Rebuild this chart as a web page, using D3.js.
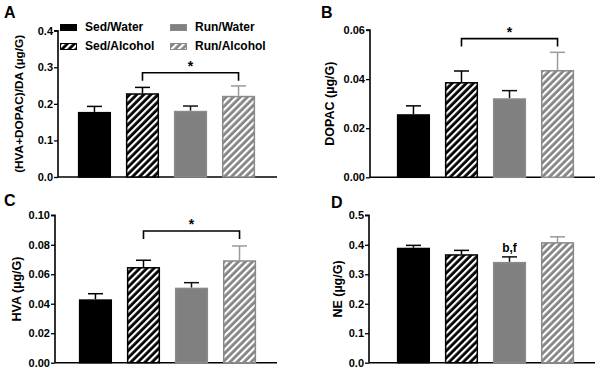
<!DOCTYPE html>
<html>
<head>
<meta charset="utf-8">
<script src="https://cdn.jsdelivr.net/npm/d3@7"></script>
<style>
  body { margin: 0; background: #fff; }
  svg { font-family: "Liberation Sans", Arial, sans-serif; font-weight: bold; }
  .tick text { font-size: 11px; font-weight: bold; fill: #000; }
</style>
</head>
<body>
<svg id="chart" width="600" height="372"></svg>
<script>
  // groups and per-panel values (mean, upper error)
  const groups = ['Sed/Water', 'Sed/Alcohol', 'Run/Water', 'Run/Alcohol'];

  const hvaDopacDaMean = [0.178, 0.229, 0.181, 0.222];
  const hvaDopacDaErr = [0.015, 0.016, 0.013, 0.027];

  const dopacMean = [0.0257, 0.0388, 0.0322, 0.0437];
  const dopacErr = [0.0034, 0.0045, 0.0031, 0.0072];

  const hvaMean = [0.0430, 0.0649, 0.0509, 0.0695];
  const hvaErr = [0.0038, 0.0046, 0.0034, 0.0097];

  const neMean = [0.390, 0.368, 0.342, 0.409];
  const neErr = [0.008, 0.013, 0.017, 0.018];

  const ticksA = [0, 0.1, 0.2, 0.3, 0.4];
  const ticksB = [0, 0.02, 0.04, 0.06];
  const ticksC = [0, 0.02, 0.04, 0.06, 0.08, 0.10];
  const ticksD = [0, 0.1, 0.2, 0.3, 0.4, 0.5];

  const svg = d3.select('#chart');

  // hatch patterns
  const defs = svg.append('defs');
  function hatch (id, bg, stripe) {
    const p = defs.append('pattern')
      .attr('id', id)
      .attr('patternUnits', 'userSpaceOnUse')
      .attr('width', 5)
      .attr('height', 5)
      .attr('patternTransform', 'rotate(45)');
    p.append('rect').attr('width', 5).attr('height', 5).attr('fill', bg);
    p.append('rect').attr('width', 2.2).attr('height', 5).attr('fill', stripe);
  }
  hatch('hatchBlack', '#000', '#fff');
  hatch('hatchGray', '#848484', '#fff');

  const fills = ['#000', 'url(#hatchBlack)', '#808080', 'url(#hatchGray)'];
  const strokes = ['#000', '#000', '#8a8a8a', '#8a8a8a'];
  const errColors = ['#000', '#000', '#111', '#9a9a9a'];

  function panel (cfg) {
    const g = svg.append('g');

    const y = d3.scaleLinear()
      .domain([0, cfg.max])
      .range([cfg.bottom, cfg.top]);

    const x = d3.scaleBand()
      .domain(groups)
      .range([cfg.band0, cfg.band1])
      .padding(0.31);

    g.append('g')
      .attr('transform', 'translate(' + cfg.axisX + ',0)')
      .call(d3.axisLeft(y).tickValues(cfg.ticks).tickSize(4).tickFormat(d3.format(cfg.fmt)))
      .call(function (a) {
        a.select('.domain').attr('stroke-width', 1.6).attr('d', 'M-4,' + y(cfg.max) + 'H0V' + y(0));
        a.selectAll('.tick line').attr('stroke-width', 1.3);
        a.selectAll('.tick text').attr('x', -5);
      });

    // baseline
    g.append('line')
      .attr('x1', cfg.axisX)
      .attr('x2', cfg.axisRight)
      .attr('y1', y(0))
      .attr('y2', y(0))
      .attr('stroke', '#000')
      .attr('stroke-width', 1.6);

    const data = groups.map(function (k, i) {
      return { key: k, i: i, mean: cfg.mean[i], err: cfg.err[i] };
    });

    // error bars (upward only)
    const eb = g.selectAll('.eb').data(data).enter().append('g');
    eb.append('line')
      .attr('x1', function (d) { return x(d.key) + x.bandwidth() / 2; })
      .attr('x2', function (d) { return x(d.key) + x.bandwidth() / 2; })
      .attr('y1', function (d) { return y(d.mean); })
      .attr('y2', function (d) { return y(d.mean + d.err); })
      .attr('stroke', function (d) { return errColors[d.i]; })
      .attr('stroke-width', 1.5);
    eb.append('line')
      .attr('x1', function (d) { return x(d.key) + x.bandwidth() / 2 - 7.5; })
      .attr('x2', function (d) { return x(d.key) + x.bandwidth() / 2 + 7.5; })
      .attr('y1', function (d) { return y(d.mean + d.err); })
      .attr('y2', function (d) { return y(d.mean + d.err); })
      .attr('stroke', function (d) { return errColors[d.i]; })
      .attr('stroke-width', 1.5);

    g.selectAll('.bar').data(data).enter().append('rect')
      .attr('x', function (d) { return x(d.key) + 0.75; })
      .attr('width', x.bandwidth() - 1.5)
      .attr('y', function (d) { return y(d.mean) + 0.75; })
      .attr('height', function (d) { return y(0) - y(d.mean) - 0.75; })
      .attr('fill', function (d) { return fills[d.i]; })
      .attr('stroke', function (d) { return strokes[d.i]; })
      .attr('stroke-width', 1.5);

    // significance bracket
    if (cfg.bracket) {
      const b = cfg.bracket;
      const xa = x(groups[b.from]) + x.bandwidth() / 2;
      const xb = x(groups[b.to]) + x.bandwidth() / 2;
      const yb = y(b.level);
      g.append('path')
        .attr('d', 'M' + xa + ',' + (yb + 8) + 'V' + yb + 'H' + xb + 'V' + (yb + 8))
        .attr('fill', 'none')
        .attr('stroke', '#000')
        .attr('stroke-width', 1.6);
      g.append('text')
        .attr('x', (xa + xb) / 2)
        .attr('y', yb - 2)
        .attr('text-anchor', 'middle')
        .attr('font-size', 14)
        .text('*');
    }

    if (cfg.note) {
      const n = cfg.note;
      g.append('text')
        .attr('x', x(groups[n.bar]) + x.bandwidth() / 2)
        .attr('y', y(cfg.mean[n.bar] + cfg.err[n.bar]) - 5)
        .attr('text-anchor', 'middle')
        .attr('font-size', 12)
        .text(n.text);
    }

    // y title
    g.append('text')
      .attr('transform', 'translate(' + cfg.titleX + ',' + ((cfg.top + cfg.bottom) / 2) + ') rotate(-90)')
      .attr('text-anchor', 'middle')
      .attr('font-size', cfg.titleSize)
      .text(cfg.title);

    // panel letter
    g.append('text')
      .attr('x', cfg.letterX)
      .attr('y', cfg.letterY)
      .attr('font-size', 16)
      .text(cfg.letter);
  }

  panel({
    letter: 'A', letterX: 4, letterY: 18,
    title: '(HVA+DOPAC)/DA (\u00b5g/G)', titleX: 23, titleSize: 11.8,
    axisX: 58, axisRight: 277, band0: 63, band1: 270,
    top: 30.7, bottom: 177, max: 0.4, ticks: ticksA, fmt: '.1f',
    mean: hvaDopacDaMean, err: hvaDopacDaErr,
    bracket: { from: 1, to: 3, level: 0.285 }
  });

  panel({
    letter: 'B', letterX: 321, letterY: 18,
    title: 'DOPAC (\u00b5g/G)', titleX: 334, titleSize: 12.5,
    axisX: 370, axisRight: 595, band0: 382, band1: 589,
    top: 30, bottom: 177.3, max: 0.06, ticks: ticksB, fmt: '.2f',
    mean: dopacMean, err: dopacErr,
    bracket: { from: 1, to: 3, level: 0.0565 }
  });

  panel({
    letter: 'C', letterX: 4, letterY: 206,
    title: 'HVA (\u00b5g/G)', titleX: 21, titleSize: 12.5,
    axisX: 55, axisRight: 277, band0: 64, band1: 271,
    top: 215.3, bottom: 362.7, max: 0.10, ticks: ticksC, fmt: '.2f',
    mean: hvaMean, err: hvaErr,
    bracket: { from: 1, to: 3, level: 0.0893 }
  });

  panel({
    letter: 'D', letterX: 331, letterY: 208,
    title: 'NE (\u00b5g/G)', titleX: 342, titleSize: 12.5,
    axisX: 369, axisRight: 595, band0: 382, band1: 589,
    top: 215.3, bottom: 362.7, max: 0.5, ticks: ticksD, fmt: '.1f',
    mean: neMean, err: neErr,
    note: { bar: 2, text: 'b,f' }
  });

  // legend
  const legendRows = [
    { key: groups[0], x: 60, y: 24 },
    { key: groups[1], x: 60, y: 43 },
    { key: groups[2], x: 170, y: 24 },
    { key: groups[3], x: 170, y: 43 }
  ];
  const lg = svg.append('g').attr('class', 'legend');
  legendRows.forEach(function (r, i) {
    lg.append('rect')
      .attr('x', r.x + 0.5)
      .attr('y', r.y + 0.5)
      .attr('width', 16)
      .attr('height', 6)
      .attr('fill', fills[i])
      .attr('stroke', strokes[i])
      .attr('stroke-width', 1);
    lg.append('text')
      .attr('x', r.x + 25)
      .attr('y', r.y + 7)
      .attr('font-size', 12)
      .text(r.key);
  });
</script>
</body>
</html>
